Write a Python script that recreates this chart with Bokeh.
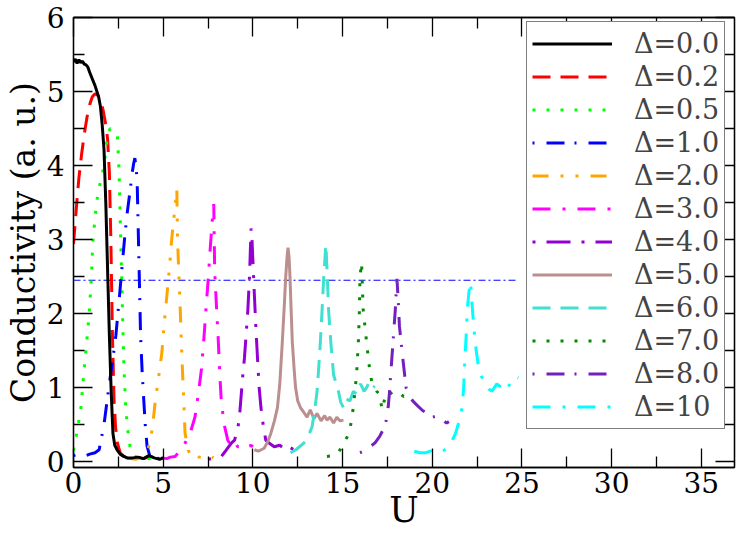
from bokeh.plotting import figure
from bokeh.models import Range1d, FixedTicker, LinearAxis, Legend, LegendItem
from bokeh.embed import file_html
from bokeh.resources import INLINE

# ---------------- data ----------------
u00 = [0, 0.1, 0.2, 0.3, 0.4, 0.5, 0.6, 0.7, 0.8, 0.9, 1.0, 1.2, 1.4, 1.5, 1.6, 1.7, 1.8, 1.9, 2.0, 2.1, 2.2, 2.3, 2.45, 2.6, 2.8, 3.0, 3.3, 3.6, 3.9, 4.2, 4.5, 4.8, 5.0]
c00 = [5.40, 5.44, 5.38, 5.43, 5.39, 5.41, 5.37, 5.36, 5.33, 5.26, 5.20, 5.08, 4.93, 4.80, 4.55, 4.22, 3.50, 2.60, 1.70, 0.95, 0.38, 0.22, 0.15, 0.10, 0.07, 0.05, 0.05, 0.06, 0.04, 0.08, 0.05, 0.03, 0.05]

u02 = [0, 0.15, 0.3, 0.45, 0.6, 0.75, 0.9, 1.05, 1.2, 1.35, 1.5, 1.65, 1.8, 1.9, 2.0, 2.08, 2.17, 2.26, 2.35, 2.45, 2.6, 2.8, 3.1, 3.5, 3.9, 4.3, 4.7, 5.0]
c02 = [2.94, 3.40, 3.83, 4.15, 4.42, 4.65, 4.82, 4.93, 4.97, 4.95, 4.88, 4.75, 4.55, 4.36, 3.90, 3.03, 1.71, 0.83, 0.45, 0.25, 0.12, 0.07, 0.05, 0.06, 0.04, 0.07, 0.05, 0.04]

u05 = [0, 0.15, 0.3, 0.42, 0.6, 0.75, 0.88, 1.0, 1.07, 1.2, 1.34, 1.5, 1.62, 1.75, 1.9, 2.05, 2.2, 2.35, 2.45, 2.54, 2.63, 2.72, 2.81, 2.9, 3.0, 3.15, 3.3, 3.6, 3.9, 4.2, 4.5, 4.8, 5.1]
c05 = [0.15, 0.34, 0.55, 0.74, 1.27, 1.65, 2.02, 2.50, 2.93, 3.30, 3.59, 3.78, 3.90, 4.10, 4.43, 4.50, 4.47, 4.45, 4.40, 3.92, 3.03, 2.15, 1.27, 0.80, 0.47, 0.20, 0.08, 0.05, 0.07, 0.04, 0.06, 0.04, 0.05]

u10 = [0, 0.3, 0.6, 0.9, 1.2, 1.43, 1.7, 1.99, 2.2, 2.36, 2.55, 2.72, 2.86, 3.0, 3.15, 3.27, 3.35, 3.42, 3.5, 3.55, 3.64, 3.74, 3.83, 3.92, 4.0, 4.1, 4.25, 4.38, 4.6, 4.8, 5.0]
c10 = [0.08, 0.10, 0.07, 0.10, 0.12, 0.16, 0.50, 1.04, 1.40, 1.70, 2.20, 2.67, 3.05, 3.37, 3.65, 3.90, 4.02, 4.10, 3.95, 3.77, 2.80, 1.70, 1.20, 0.82, 0.50, 0.21, 0.08, 0.03, 0.05, 0.04, 0.05]

u20 = [2.9, 3.2, 3.46, 3.8, 4.0, 4.19, 4.4, 4.56, 4.75, 4.93, 5.05, 5.2, 5.35, 5.48, 5.6, 5.67, 5.76, 5.8, 5.87, 5.94, 6.0, 6.07, 6.15, 6.22, 6.4, 6.58, 6.8, 7.0, 7.3, 7.6, 7.8]
c20 = [0.05, 0.04, 0.03, 0.06, 0.10, 0.20, 0.45, 0.82, 1.15, 1.48, 1.85, 2.23, 2.62, 3.02, 3.30, 3.46, 3.68, 3.00, 2.55, 2.14, 1.70, 1.26, 0.80, 0.38, 0.15, 0.07, 0.10, 0.06, 0.05, 0.08, 0.05]

u30 = [4.9, 5.2, 5.4, 5.67, 5.95, 6.22, 6.5, 6.77, 6.95, 7.14, 7.28, 7.41, 7.52, 7.6, 7.73, 7.82, 7.87, 7.97, 8.06, 8.15, 8.24, 8.4, 8.6, 8.8, 9.0, 9.16, 9.34, 9.5, 9.7, 9.9, 10.0]
c30 = [0.05, 0.04, 0.06, 0.07, 0.15, 0.25, 0.38, 0.60, 0.90, 1.26, 1.70, 2.14, 2.50, 2.80, 3.24, 3.48, 2.58, 2.10, 1.70, 1.20, 0.82, 0.50, 0.29, 0.20, 0.25, 0.20, 0.20, 0.17, 0.20, 0.22, 0.20]

u40 = [7.5, 7.9, 8.24, 8.5, 8.8, 8.98, 9.16, 9.25, 9.44, 9.53, 9.62, 9.72, 9.81, 9.9, 9.95, 10.08, 10.17, 10.26, 10.35, 10.45, 10.6, 10.72, 10.9, 11.19, 11.5, 11.83, 12.0, 12.29]
c40 = [0.03, 0.05, 0.07, 0.15, 0.25, 0.29, 0.45, 0.60, 1.17, 1.40, 1.70, 2.05, 2.49, 3.15, 3.00, 2.27, 1.80, 1.39, 1.00, 0.73, 0.45, 0.29, 0.25, 0.20, 0.22, 0.16, 0.20, 0.16]

u50 = [10.08, 10.3, 10.63, 10.85, 11.0, 11.2, 11.37, 11.5, 11.64, 11.75, 11.83, 11.9, 11.96, 12.02, 12.07, 12.14, 12.2, 12.3, 12.38, 12.5, 12.65, 12.8, 13.02, 13.2, 13.4, 13.58, 13.8, 14.0, 14.13, 14.3, 14.5, 14.68, 14.85, 15.05]
c50 = [0.16, 0.14, 0.18, 0.28, 0.38, 0.55, 0.73, 1.05, 1.61, 2.10, 2.49, 2.75, 2.89, 2.75, 2.49, 2.00, 1.61, 1.25, 1.00, 0.82, 0.73, 0.68, 0.60, 0.70, 0.58, 0.65, 0.55, 0.62, 0.56, 0.60, 0.52, 0.60, 0.55, 0.56]

u60 = [12.1, 12.4, 12.84, 13.1, 13.3, 13.45, 13.58, 13.68, 13.76, 13.86, 13.95, 14.07, 14.15, 14.22, 14.35, 14.5, 14.65, 14.77, 14.9, 15.05, 15.2, 15.41, 15.6, 15.78, 16.0, 16.2, 16.34, 16.5, 16.7, 16.8]
c60 = [0.12, 0.16, 0.25, 0.35, 0.47, 0.70, 0.95, 1.30, 1.61, 2.05, 2.49, 2.93, 2.50, 2.05, 1.60, 1.17, 1.05, 0.95, 0.80, 0.73, 0.85, 0.82, 0.95, 0.91, 1.05, 0.95, 1.00, 1.08, 1.00, 1.02]

u70 = [14.13, 14.5, 14.77, 15.05, 15.25, 15.41, 15.6, 15.78, 15.88, 15.94, 15.97, 16.06, 16.15, 16.34, 16.52, 16.65, 16.79, 16.9, 17.07, 17.2, 17.4, 17.6, 17.8, 17.99, 18.2, 18.4, 18.54]
c70 = [0.07, 0.08, 0.12, 0.25, 0.33, 0.43, 0.73, 1.17, 1.61, 2.05, 2.49, 2.69, 2.05, 1.61, 1.22, 1.05, 1.00, 0.95, 0.91, 0.70, 0.90, 0.95, 0.90, 0.89, 0.92, 0.88, 0.89]

u80 = [15.97, 16.3, 16.52, 16.8, 17.07, 17.3, 17.44, 17.55, 17.62, 17.72, 17.81, 17.94, 18.03, 18.1, 18.17, 18.36, 18.54, 18.7, 18.91, 19.2, 19.46, 19.75, 20.02, 20.3, 20.57, 20.8, 20.93]
c80 = [0.12, 0.15, 0.20, 0.25, 0.34, 0.45, 0.56, 0.75, 0.95, 1.30, 1.61, 2.05, 2.47, 2.20, 1.83, 1.39, 1.00, 0.90, 0.82, 0.75, 0.69, 0.65, 0.60, 0.62, 0.56, 0.52, 0.54]

u100 = [19.0, 19.3, 19.65, 20.0, 20.38, 20.7, 20.93, 21.1, 21.3, 21.5, 21.67, 21.75, 21.82, 21.9, 21.95, 22.05, 22.13, 22.2, 22.31, 22.45, 22.59, 22.75, 22.96, 23.15, 23.33, 23.6, 23.88, 24.1, 24.43, 24.6, 24.8]
c100 = [0.14, 0.12, 0.12, 0.15, 0.12, 0.16, 0.20, 0.28, 0.38, 0.55, 0.73, 1.00, 1.39, 1.75, 2.05, 2.30, 2.43, 2.20, 1.83, 1.50, 1.26, 1.15, 1.04, 0.98, 0.95, 1.05, 1.00, 0.95, 1.09, 1.15, 1.13]

ref_u = [0, 24.8]
ref_c = [2.45, 2.45]

labels = ["Δ=0.0", "Δ=0.2", "Δ=0.5", "Δ=1.0", "Δ=2.0", "Δ=3.0",
          "Δ=4.0", "Δ=5.0", "Δ=6.0", "Δ=7.0", "Δ=8.0", "Δ=10"]
x_ticks = [0, 5, 10, 15, 20, 25, 30, 35]
y_ticks = [0, 1, 2, 3, 4, 5, 6]
x_title = "U"
y_title = "Conductivity (a. u.)"

series = [(u00, c00), (u02, c02), (u05, c05), (u10, c10), (u20, c20), (u30, c30),
          (u40, c40), (u50, c50), (u60, c60), (u70, c70), (u80, c80), (u100, c100)]

colors = ["#000000", "#ff0000", "#00ff00", "#0000ff", "#ffa500", "#ff00ff",
          "#9400d3", "#bc8f8f", "#40e0d0", "#008b00", "#7221bc", "#00ffff"]
dashes = ["solid", "18 10", "3 11", "2 12 18 10", "16 12 3 12 3 12", "18 12 3 12",
          "3 11 24 11", "solid", "18 10", "3 11", "2 12 18 10", "18 12 3 12"]

FONT = "DejaVu Serif"

p = figure(width=738, height=538, output_backend="svg", toolbar_location=None,
           x_range=Range1d(0, 36.85), y_range=Range1d(-0.08, 6.0),
           x_axis_label=x_title, y_axis_label=y_title,
           min_border_left=66, min_border_top=17, min_border_right=4, min_border_bottom=71)
p.grid.visible = False
p.outline_line_color = "black"
p.outline_line_width = 1.3
p.background_fill_color = "white"

minor_x = [2.5 + 5 * i for i in range(8)]
minor_y = [0.5 + i for i in range(6)]

for ax in p.xaxis:
    ax.ticker = FixedTicker(ticks=x_ticks, minor_ticks=minor_x)
for ax in p.yaxis:
    ax.ticker = FixedTicker(ticks=y_ticks, minor_ticks=minor_y)

for ax in list(p.xaxis) + list(p.yaxis):
    ax.major_tick_in = 19
    ax.major_tick_out = 0
    ax.minor_tick_in = 11
    ax.minor_tick_out = 0
    ax.major_tick_line_width = 1.3
    ax.minor_tick_line_width = 1.3
    ax.axis_line_width = 1.3
    ax.major_label_text_font = FONT
    ax.major_label_text_font_size = "28px"
    ax.major_label_text_color = "black"
    ax.axis_label_text_font = FONT
    ax.axis_label_text_font_style = "normal"
    ax.axis_label_text_color = "black"

p.xaxis.axis_label_text_font_size = "35px"
p.yaxis.axis_label_text_font_size = "33px"
p.xaxis.major_label_standoff = 4
p.yaxis.major_label_standoff = 9
p.xaxis.axis_label_standoff = -6
p.yaxis.axis_label_standoff = 1

# mirrored axes (top / right) with inward ticks, labels not drawn
top = LinearAxis(ticker=FixedTicker(ticks=x_ticks, minor_ticks=minor_x))
right = LinearAxis(ticker=FixedTicker(ticks=y_ticks, minor_ticks=minor_y))
for ax in (top, right):
    ax.major_tick_in = 19
    ax.major_tick_out = 0
    ax.minor_tick_in = 11
    ax.minor_tick_out = 0
    ax.major_tick_line_width = 1.3
    ax.minor_tick_line_width = 1.3
    ax.axis_line_width = 1.3
    ax.major_label_text_font_size = "1px"
    ax.major_label_text_color = None
    ax.major_label_standoff = 0
p.add_layout(top, "above")
p.add_layout(right, "right")

# reference line
p.line(ref_u, ref_c, line_color="#0000ff", line_width=1, line_dash="7 3 2 3")

renderers = []
for (u, c), col, dsh in zip(series, colors, dashes):
    r = p.line(u, c, line_color=col, line_width=3, line_dash=dsh)
    renderers.append(r)
# black curve drawn on top, as in the reference
p.renderers.remove(renderers[0])
p.renderers.append(renderers[0])

items = [LegendItem(label=lab, renderers=[r]) for lab, r in zip(labels, renderers)]

legend = Legend(items=items, location=(453, 38), padding=5, spacing=0,
                glyph_width=80, glyph_height=33, label_height=33, label_width=84,
                label_standoff=22, label_text_font=FONT, label_text_font_size="27px",
                border_line_color="black", border_line_width=1.5,
                background_fill_color="white", background_fill_alpha=1.0, margin=0)
p.add_layout(legend)

open("out.html", "w").write(file_html(p, INLINE))
